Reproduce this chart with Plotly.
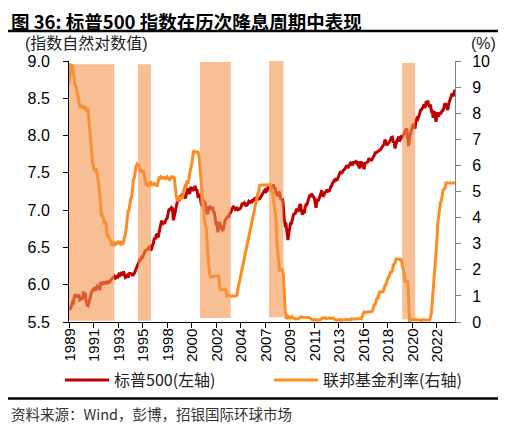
import numpy as np
import pandas as pd
import plotly.graph_objects as go

# S&P 500 month-end close, Jan 1989 - Jun 2024 (chart shows its natural log)
spx = [
    297, 289, 295, 310, 321, 318, 346, 351, 349, 340, 346, 353,          # 1989
    329, 332, 340, 331, 361, 358, 356, 323, 306, 304, 322, 330,          # 1990
    344, 367, 375, 375, 390, 371, 387, 395, 388, 392, 375, 417,          # 1991
    409, 413, 404, 415, 415, 408, 424, 414, 418, 419, 431, 436,          # 1992
    439, 443, 452, 440, 450, 451, 448, 464, 459, 468, 462, 466,          # 1993
    482, 467, 446, 451, 457, 444, 458, 475, 463, 472, 454, 459,          # 1994
    470, 487, 501, 515, 533, 545, 562, 562, 584, 582, 605, 616,          # 1995
    636, 640, 646, 654, 669, 671, 640, 652, 687, 705, 757, 741,          # 1996
    786, 791, 757, 801, 848, 885, 954, 899, 947, 915, 955, 970,          # 1997
    980, 1049, 1102, 1112, 1091, 1134, 1121, 957, 1017, 1099, 1164, 1229,  # 1998
    1280, 1238, 1286, 1335, 1302, 1373, 1329, 1320, 1283, 1363, 1389, 1469,  # 1999
    1394, 1366, 1499, 1452, 1421, 1455, 1431, 1518, 1437, 1429, 1315, 1320,  # 2000
    1366, 1240, 1160, 1249, 1256, 1224, 1211, 1134, 1041, 1060, 1139, 1148,  # 2001
    1130, 1107, 1147, 1076, 1067, 990, 912, 916, 815, 886, 936, 880,     # 2002
    856, 841, 848, 917, 964, 975, 990, 1008, 996, 1051, 1058, 1112,      # 2003
    1131, 1145, 1126, 1107, 1121, 1141, 1102, 1104, 1115, 1130, 1174, 1212,  # 2004
    1181, 1204, 1181, 1157, 1192, 1191, 1234, 1220, 1229, 1207, 1249, 1248,  # 2005
    1280, 1281, 1295, 1311, 1270, 1270, 1277, 1304, 1336, 1378, 1401, 1418,  # 2006
    1438, 1407, 1421, 1482, 1531, 1503, 1455, 1474, 1527, 1549, 1481, 1468,  # 2007
    1379, 1331, 1323, 1386, 1400, 1280, 1267, 1283, 1165, 969, 896, 903,     # 2008
    826, 735, 798, 873, 919, 919, 987, 1021, 1057, 1036, 1096, 1115,     # 2009
    1074, 1104, 1169, 1187, 1089, 1031, 1102, 1049, 1141, 1183, 1181, 1258,  # 2010
    1286, 1327, 1326, 1364, 1345, 1321, 1292, 1219, 1131, 1253, 1247, 1258,  # 2011
    1312, 1366, 1408, 1398, 1310, 1362, 1379, 1407, 1441, 1412, 1416, 1426,  # 2012
    1498, 1515, 1569, 1598, 1631, 1606, 1686, 1633, 1682, 1757, 1806, 1848,  # 2013
    1783, 1859, 1872, 1884, 1924, 1960, 1931, 2003, 1972, 2018, 2068, 2059,  # 2014
    1995, 2105, 2068, 2086, 2107, 2063, 2104, 1972, 1920, 2079, 2080, 2044,  # 2015
    1940, 1932, 2060, 2065, 2097, 2099, 2174, 2171, 2168, 2126, 2199, 2239,  # 2016
    2279, 2364, 2363, 2384, 2412, 2423, 2470, 2472, 2519, 2575, 2648, 2674,  # 2017
    2824, 2714, 2641, 2648, 2705, 2718, 2816, 2902, 2914, 2712, 2760, 2507,  # 2018
    2704, 2784, 2834, 2946, 2752, 2942, 2980, 2926, 2977, 3038, 3141, 3231,  # 2019
    3226, 2954, 2585, 2912, 3044, 3100, 3271, 3500, 3363, 3270, 3622, 3756,  # 2020
    3714, 3811, 3973, 4181, 4204, 4298, 4395, 4523, 4308, 4605, 4567, 4766,  # 2021
    4516, 4374, 4530, 4132, 4132, 3785, 4130, 3955, 3586, 3872, 4080, 3840,  # 2022
    4077, 3970, 4109, 4169, 4180, 4450, 4589, 4508, 4288, 4194, 4568, 4770,  # 2023
    4846, 5096, 5254, 5036, 5278, 5520,                                  # 2024
]

# effective fed funds rate (%), same months
fed = [
    9.12, 9.36, 9.85, 9.84, 9.81, 9.53, 9.24, 8.99, 9.02, 8.84, 8.55, 8.45,  # 1989
    8.23, 8.24, 8.28, 8.26, 8.18, 8.29, 8.15, 8.13, 8.20, 8.11, 7.81, 7.31,  # 1990
    6.91, 6.25, 6.12, 5.91, 5.78, 5.90, 5.82, 5.66, 5.45, 5.21, 4.81, 4.43,  # 1991
    4.03, 4.06, 3.98, 3.73, 3.82, 3.76, 3.25, 3.30, 3.22, 3.10, 3.09, 2.92,  # 1992
    3.02, 3.03, 3.07, 2.96, 3.00, 3.04, 3.06, 3.03, 3.09, 2.99, 3.02, 2.96,  # 1993
    3.05, 3.25, 3.34, 3.56, 4.01, 4.25, 4.26, 4.47, 4.73, 4.76, 5.29, 5.45,  # 1994
    5.53, 5.92, 5.98, 6.05, 6.01, 6.00, 5.85, 5.74, 5.80, 5.76, 5.80, 5.60,  # 1995
    5.56, 5.22, 5.31, 5.22, 5.24, 5.27, 5.40, 5.22, 5.30, 5.24, 5.31, 5.29,  # 1996
    5.25, 5.19, 5.39, 5.51, 5.50, 5.56, 5.52, 5.54, 5.54, 5.50, 5.52, 5.50,  # 1997
    5.56, 5.51, 5.49, 5.45, 5.49, 5.56, 5.54, 5.55, 5.51, 5.07, 4.83, 4.68,  # 1998
    4.63, 4.76, 4.81, 4.74, 4.74, 4.76, 4.99, 5.07, 5.22, 5.20, 5.42, 5.30,  # 1999
    5.45, 5.73, 5.85, 6.02, 6.27, 6.53, 6.54, 6.50, 6.52, 6.51, 6.51, 6.40,  # 2000
    5.98, 5.49, 5.31, 4.80, 4.21, 3.97, 3.77, 3.65, 3.07, 2.49, 2.09, 1.82,  # 2001
    1.73, 1.74, 1.73, 1.75, 1.75, 1.75, 1.73, 1.74, 1.75, 1.75, 1.34, 1.24,  # 2002
    1.24, 1.26, 1.25, 1.26, 1.26, 1.22, 1.01, 1.03, 1.01, 1.01, 1.00, 0.98,  # 2003
    1.00, 1.01, 1.00, 1.00, 1.00, 1.03, 1.26, 1.43, 1.61, 1.76, 1.93, 2.16,  # 2004
    2.28, 2.50, 2.63, 2.79, 3.00, 3.04, 3.26, 3.50, 3.62, 3.78, 4.00, 4.16,  # 2005
    4.29, 4.49, 4.59, 4.79, 4.94, 4.99, 5.24, 5.25, 5.25, 5.25, 5.25, 5.24,  # 2006
    5.25, 5.26, 5.26, 5.25, 5.25, 5.25, 5.26, 5.02, 4.94, 4.76, 4.49, 4.24,  # 2007
    3.94, 2.98, 2.61, 2.28, 1.98, 2.00, 2.01, 2.00, 1.81, 0.97, 0.39, 0.16,  # 2008
    0.15, 0.22, 0.18, 0.15, 0.18, 0.21, 0.16, 0.16, 0.15, 0.12, 0.12, 0.12,  # 2009
    0.11, 0.13, 0.16, 0.20, 0.20, 0.18, 0.18, 0.19, 0.19, 0.19, 0.19, 0.18,  # 2010
    0.17, 0.16, 0.14, 0.10, 0.09, 0.09, 0.07, 0.10, 0.08, 0.07, 0.08, 0.07,  # 2011
    0.08, 0.10, 0.13, 0.14, 0.16, 0.16, 0.16, 0.13, 0.14, 0.16, 0.16, 0.16,  # 2012
    0.14, 0.15, 0.14, 0.15, 0.11, 0.09, 0.09, 0.08, 0.08, 0.09, 0.08, 0.09,  # 2013
    0.07, 0.07, 0.08, 0.09, 0.09, 0.10, 0.09, 0.09, 0.09, 0.09, 0.09, 0.12,  # 2014
    0.11, 0.11, 0.11, 0.12, 0.12, 0.13, 0.13, 0.14, 0.14, 0.12, 0.12, 0.24,  # 2015
    0.34, 0.38, 0.36, 0.37, 0.37, 0.38, 0.39, 0.40, 0.40, 0.40, 0.41, 0.54,  # 2016
    0.65, 0.66, 0.79, 0.90, 0.91, 1.04, 1.15, 1.16, 1.15, 1.15, 1.16, 1.30,  # 2017
    1.41, 1.42, 1.51, 1.69, 1.70, 1.82, 1.91, 1.91, 1.95, 2.19, 2.20, 2.27,  # 2018
    2.40, 2.40, 2.41, 2.42, 2.39, 2.38, 2.40, 2.13, 2.04, 1.83, 1.55, 1.55,  # 2019
    1.55, 1.58, 0.65, 0.05, 0.05, 0.08, 0.09, 0.10, 0.09, 0.09, 0.09, 0.09,  # 2020
    0.09, 0.08, 0.07, 0.07, 0.06, 0.08, 0.10, 0.09, 0.08, 0.08, 0.08, 0.08,  # 2021
    0.08, 0.08, 0.20, 0.33, 0.77, 1.21, 1.68, 2.33, 2.56, 3.08, 3.78, 4.10,  # 2022
    4.33, 4.57, 4.65, 4.83, 5.06, 5.08, 5.12, 5.33, 5.33, 5.33, 5.33, 5.33,  # 2023
    5.33, 5.33, 5.33, 5.33, 5.33, 5.33,                                      # 2024
]

months = pd.date_range("1989-01-01", periods=len(spx), freq="MS")

# shaded rate-cut windows (bounds on the right axis)
cut_start = ["1989-01-01", "1995-05-05", "2001-01-10", "2007-05-10", "2019-07-28"]
cut_end = ["1993-02-28", "1996-07-10", "2003-11-05", "2008-09-05", "2020-10-05"]
cut_low = [0.05, 0.05, 0.15, 0.18, 0.11]
cut_high = [9.88, 9.88, 9.96, 10.0, 9.92]

# x ticks fall every 27 months, labelled with the year
tick_dates = pd.date_range("1989-01-01", periods=16, freq="27MS")
tick_labels = [str(d.year) for d in tick_dates]

# the page puts an 8px body margin round the plot, so work in page pixels minus that
OFF = 8
W, H = 506 - OFF, 428 - OFF
L, R, T, B = 69 - OFF, 51, 61 - OFF, 106
pw, ph = W - L - R, H - T - B

def px(x):
    return (x - OFF - L) / pw

def py(y):
    return (H - B - (y - OFF)) / ph

cjk = "Noto Sans CJK SC"
num = "Liberation Sans, Noto Sans CJK SC"

fig = go.Figure()
fig.add_trace(go.Scatter(x=months, y=np.log(spx), name="标普500(左轴)", mode="lines",
                         line=dict(color="#C00000", width=3)))
fig.add_trace(go.Scatter(x=months, y=fed, name="联邦基金利率(右轴)", mode="lines",
                         line=dict(color="#FF8C1E", width=3), yaxis="y2"))

for s, e, lo, hi in zip(cut_start, cut_end, cut_low, cut_high):
    fig.add_shape(type="rect", xref="x", yref="y2", x0=s, x1=e, y0=lo, y1=hi,
                  fillcolor="rgb(242,148,75)", opacity=0.6, line_width=0, layer="above")

# the two black rules above and below the chart
fig.add_shape(type="line", xref="paper", yref="paper", x0=px(8), x1=px(500), y0=py(31), y1=py(31),
              line=dict(color="black", width=2.5))
fig.add_shape(type="line", xref="paper", yref="paper", x0=px(8), x1=px(506), y0=py(398.5), y1=py(398.5),
              line=dict(color="black", width=2.5))

fig.add_annotation(text="<b>图 36: 标普500 指数在历次降息周期中表现</b>", xref="paper", yref="paper",
                   x=px(9), y=py(20.5), xanchor="left", yanchor="middle", showarrow=False,
                   font=dict(family=cjk, size=18.5, color="black"))
fig.add_annotation(text="(指数自然对数值)", xref="paper", yref="paper", x=px(23), y=py(44),
                   xanchor="left", yanchor="middle", showarrow=False,
                   font=dict(family=num, size=16, color="#222"))
fig.add_annotation(text="(%)", xref="paper", yref="paper", x=px(498), y=py(44),
                   xanchor="right", yanchor="middle", showarrow=False,
                   font=dict(family=num, size=16, color="#222"))
fig.add_annotation(text="资料来源：Wind，彭博，招银国际环球市场", xref="paper", yref="paper",
                   x=px(9), y=py(413), xanchor="left", yanchor="middle", showarrow=False,
                   font=dict(family=cjk, size=14.5, color="#333"))

# vertical year labels under the x ticks
for d, lab in zip(tick_dates, tick_labels):
    fig.add_annotation(text=lab, x=d, xref="x", y=py(327), yref="paper", textangle=-90,
                       xanchor="center", yanchor="top", showarrow=False,
                       font=dict(family=num, size=15, color="black"))

fig.update_layout(
    width=W, height=H,
    margin=dict(l=L, r=R, t=T, b=B, pad=0, autoexpand=False),
    paper_bgcolor="white", plot_bgcolor="white",
    font=dict(family=num, size=16, color="black"),
    showlegend=True,
    legend=dict(orientation="h", x=px(60), y=py(380), xanchor="left", yanchor="middle",
                font=dict(family=cjk, size=16, color="#222"), itemwidth=44,
                entrywidth=150, bgcolor="rgba(0,0,0,0)"),
    xaxis=dict(type="date", range=[months[0], months[-1]], showgrid=False, zeroline=False,
               showline=True, linecolor="black", linewidth=1, ticks="outside", ticklen=5,
               tickcolor="black", tickmode="array", tickvals=tick_dates,
               showticklabels=False, automargin=False),
    yaxis=dict(range=[5.5, 9.0], dtick=0.5, tickformat=".1f", showgrid=False, zeroline=False,
               showline=True, linecolor="black", linewidth=1, ticks="outside", ticklen=5,
               tickcolor="black", ticklabelstandoff=10, automargin=False),
    yaxis2=dict(range=[0, 10], dtick=1, overlaying="y", side="right", showgrid=False, zeroline=False,
                showline=True, linecolor="#808080", linewidth=1, ticks="outside", ticklen=5,
                tickcolor="#808080", ticklabelstandoff=8, automargin=False),
)

fig.write_html("out.html")
